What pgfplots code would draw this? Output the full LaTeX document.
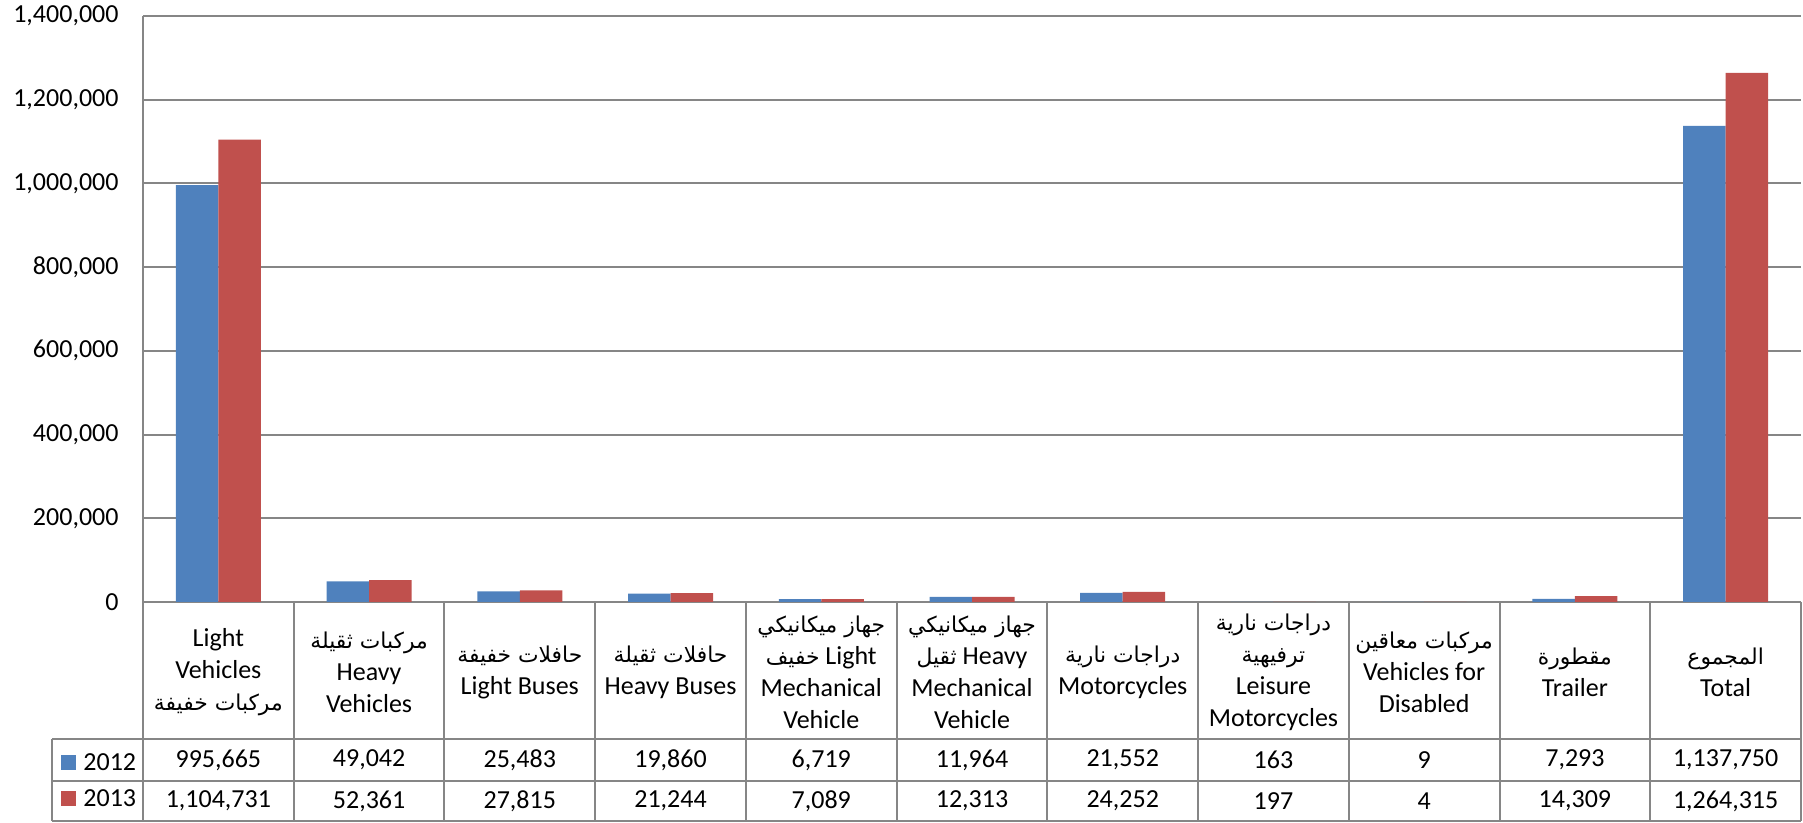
\documentclass[border=0pt]{standalone}
\usepackage{fontspec}
\usepackage{pgfplots}
\usepackage{pgfplotstable}
\pgfplotsset{compat=1.18}
\setmainfont{Carlito}
\newfontfamily\ar[Script=Arabic,Scale=0.84]{DejaVu Sans}
\TeXXeTstate=1
\definecolor{sblue}{RGB}{79,129,189}
\definecolor{sred}{RGB}{192,80,77}
\definecolor{lgray}{RGB}{134,134,134}
\pgfplotstableread{
x a b
0 995665 1104731
1 49042 52361
2 25483 27815
3 19860 21244
4 6719 7089
5 11964 12313
6 21552 24252
7 163 197
8 9 4
9 7293 14309
10 1137750 1264315
}\data
\newcommand{\fs}{\fontsize{13pt}{15.5pt}\selectfont}
\newcommand{\fh}{\fontsize{13pt}{16pt}\selectfont}
\begin{document}
\begin{tikzpicture}
\pgfkeys{/pgf/number format/.cd, fixed, precision=0, 1000 sep={,}, assume math mode=true}
\begin{axis}[
  scale only axis, width=829pt, height=293pt,
  at={(0,0)}, anchor=south west,
  xmin=-0.5, xmax=10.5, ymin=0, ymax=1400000,
  clip=false,
  axis lines*=left,
  axis line style={lgray, line width=1pt},
  ymajorgrids, grid style={lgray, line width=1pt},
  ytick={0,200000,...,1400000},
  scaled y ticks=false,
  xtick={0,...,10},
  tick style={draw=none},
  tick label style={font=\fs},
  yticklabel style={xshift=-8.7pt},
  xticklabel style={anchor=center, yshift=-35pt, align=center, font=\fh},
  xticklabels={
    {Light\\Vehicles\\{\ar\beginR مركبات خفيفة\endR}},
    {{\ar\beginR مركبات ثقيلة\endR}\\Heavy\\Vehicles},
    {{\ar\beginR حافلات خفيفة\endR}\\Light Buses},
    {{\ar\beginR حافلات ثقيلة\endR}\\Heavy Buses},
    {{\ar\beginR جهاز ميكانيكي\endR}\\{\ar\beginR خفيف\endR} Light\\Mechanical\\Vehicle},
    {{\ar\beginR جهاز ميكانيكي\endR}\\{\ar\beginR ثقيل\endR} Heavy\\Mechanical\\Vehicle},
    {{\ar\beginR دراجات نارية\endR}\\Motorcycles},
    {{\ar\beginR دراجات نارية\endR}\\{\ar\beginR ترفيهية\endR}\\Leisure\\Motorcycles},
    {{\ar\beginR مركبات معاقين\endR}\\Vehicles for\\Disabled},
    {{\ar\beginR مقطورة\endR}\\Trailer},
    {{\ar\beginR المجموع\endR}\\Total}
  },
  legend image code/.code={\fill[#1] (0pt,-3.75pt) rectangle (7.5pt,3.75pt);},
  legend style={draw=none, fill=none, font=\fs, inner sep=0pt,
    at={(rel axis cs:-0.04946,-0.30461)}, anchor=west,
    row sep=10pt,
    nodes={inner sep=0pt, text height=8pt, text depth=0pt},
    /tikz/every odd column/.append style={column sep=3.5pt}},
  legend cell align=left,
]
\addplot[ybar, bar width=0.282, fill=sblue, draw=none, bar shift=-0.141] table[x=x, y=a] {\data};
\addlegendentry{2012}
\addplot[ybar, bar width=0.282, fill=sred, draw=none, bar shift=0.141] table[x=x, y=b] {\data};
\addlegendentry{2013}
\addplot[forget plot, only marks, mark=none, point meta=explicit,
  nodes near coords={\pgfmathprintnumber{\pgfplotspointmeta}},
  nodes near coords align=center, every node near coord/.append style={font=\fs, black, anchor=center}]
  table[x=x, y expr=-377474, meta=a] {\data};
\addplot[forget plot, only marks, mark=none, point meta=explicit,
  nodes near coords={\pgfmathprintnumber{\pgfplotspointmeta}},
  nodes near coords align=center, every node near coord/.append style={font=\fs, black, anchor=center}]
  table[x=x, y expr=-475427, meta=b] {\data};
\pgfplotsinvokeforeach{-0.5,0.5,1.5,2.5,3.5,4.5,5.5,6.5,7.5,8.5,9.5,10.5}{
  \draw[lgray, line width=1pt] (axis cs:#1,0) -- (axis cs:#1,-523208);
}
\draw[lgray, line width=1pt] (axis cs:-1.1037,-327304) -- (axis cs:10.5,-327304);
\draw[lgray, line width=1pt] (axis cs:-1.1037,-427645) -- (axis cs:10.5,-427645);
\draw[lgray, line width=1pt] (axis cs:-1.1037,-523208) -- (axis cs:10.5,-523208);
\draw[lgray, line width=1pt] (axis cs:-1.1037,-327304) -- (axis cs:-1.1037,-523208);
\end{axis}
\pgfresetboundingbox
\path[use as bounding box] (-71.5pt,-110.5pt) rectangle (830pt,301pt);
\end{tikzpicture}
\end{document}
